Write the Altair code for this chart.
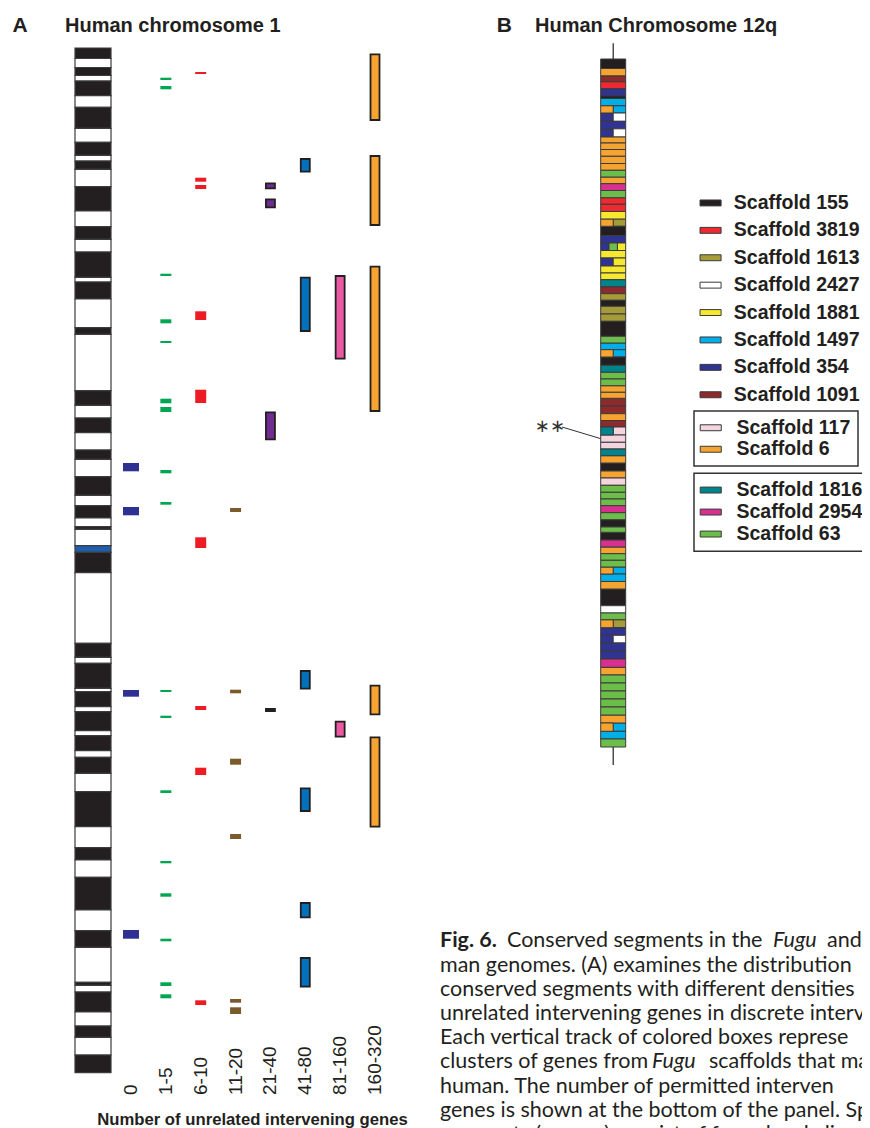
import altair as alt
import pandas as pd

# ---------------- Panel A : human chromosome 1 ----------------
# band edges, measured from the top of the ideogram (arbitrary length units)
chr1_edges = [0, 10.5, 19.5, 27.5, 33, 47.7, 59.3, 80.3, 94.3, 107.3, 113, 121.3, 138.7,
              163, 178.7, 191.3, 204, 229.3, 234, 251, 279.7, 286.3, 342.7, 357.3, 370,
              384.7, 402, 411.3, 428.7, 447.3, 457.7, 470, 478.7, 481.3, 497.7, 504.3,
              524.7, 595.3, 609.3, 615.3, 640.3, 643.7, 658.7, 663.7, 682.7, 687.7, 702.7,
              709.3, 725.3, 743.7, 778.7, 799.7, 812, 829.3, 862, 882.7, 899.3, 934.3,
              937.3, 944, 964, 978, 989.3, 1007, 1024.7]
# b = dark band, w = light band, c = centromere
chr1_stains = "bwbwbwbwbwbwbwbwbwbwbwbwbwbwbwbwbw" + "c" + "bwbwbwbwbwbwbwbwbwbwbwbwbwbwb"

tracks = ["0", "1-5", "6-10", "11-20", "21-40", "41-80", "81-160", "160-320"]
track_colors = ["#2e3192", "#00a651", "#ed1c24", "#7b5a2b", "#6f2c91", "#0072bc", "#ea5aa3", "#f6a331"]

seg_0 = [(415, 423.3), (459, 467.3), (642, 648.7), (882, 890.7)]
seg_1_5 = [(29.7, 32), (38, 41.3), (225.7, 228), (271.3, 275.3), (293, 295), (350.7, 355.3),
           (359, 364), (422, 425.3), (454, 456.7), (642, 644), (667.7, 670), (742.3, 745),
           (813, 815.3), (845.3, 848.7), (890.7, 893.3), (934.3, 938), (946.3, 950.3)]
seg_6_10 = [(24, 26), (129.7, 133.7), (137, 141), (263.3, 272), (341.7, 355), (489.3, 500),
            (658, 662), (719.7, 727), (952.3, 957)]
seg_11_20 = [(460, 464), (641.7, 645.3), (710.7, 716.7), (786, 791), (951, 954.7), (959.3, 966)]
seg_21_40 = [(135.3, 140.3), (151.3, 159.3), (364.3, 391.3), (661, 663)]
seg_41_80 = [(111, 123.7), (229.7, 283), (623, 640.7), (740.3, 763), (855, 869.3), (910, 938.7)]
seg_81_160 = [(228, 310.7), (673.7, 688.7)]
seg_160_320 = [(6.3, 72), (108, 177), (218.7, 363), (637.7, 666.3), (689.3, 778.7)]
segments = [seg_0, seg_1_5, seg_6_10, seg_11_20, seg_21_40, seg_41_80, seg_81_160, seg_160_320]

# ---------------- Panel B : human chromosome 12q ----------------
b_rows = ["155", "6", "1091", "3819", "354", "155", "1497", "6|1497", "354|2427", "354",
          "354|2427", "6", "6", "6", "6", "6", "63", "6", "2954", "63", "3819", "3819", "1881",
          "6|1613", "155", "354", "354|63|1881", "1881", "354|1881", "1881", "1881", "1816",
          "1091", "1613", "155", "1613", "1613", "155", "63", "1497", "6|1497", "155", "1816",
          "63", "63", "6", "6", "1091", "1091", "6", "1091", "1816|117", "117", "117", "1816",
          "6", "155", "6", "117", "63", "63", "63", "2954", "63", "155", "63", "155", "2954",
          "6", "63", "63", "6|1497", "1497", "6", "155", "2427", "63", "6|1613", "354",
          "354|2427", "354", "354", "2954", "6", "63", "63", "63", "63", "63", "6", "6|1497",
          "1497", "63"]
b_edges = [0, 9.5, 16.8, 22.8, 29.8, 37, 39.5, 46.8, 54, 62.3,
           69.8, 78, 84, 90.5, 97.3, 104.5, 111.3, 118, 124.7, 131.5,
           138.7, 145.3, 152.5, 160.2, 167.3, 176.5, 184, 191.5, 199, 207,
           214, 220.7, 227.7, 234.7, 241.3, 247.3, 255, 262.3, 277.3, 284,
           290.7, 298, 306.3, 313.3, 320, 326.7, 333.3, 339.3, 347, 354.7,
           361.5, 368, 376, 383.3, 390, 396.7, 404, 412, 419, 426.3,
           433.3, 440, 446.7, 453.7, 460.7, 468, 473.3, 481, 488, 494.7,
           501.3, 508, 515, 522.5, 530, 546.7, 554, 560.7, 568.7, 576.3,
           584, 592, 600, 608.3, 616, 624, 632, 640, 648, 656,
           664, 672.3, 680, 688]
b_axis = [-15.7, 706]
star_row = 52  # row pointed at by the ** annotation

scaffolds = ["155", "3819", "1613", "2427", "1881", "1497", "354", "1091",
             "117", "6", "1816", "2954", "63"]
scaffold_colors = ["#231f20", "#ed2a2f", "#a59c39", "#ffffff", "#f6e82e", "#00afe8", "#30338f",
                   "#8e2a2b", "#f4d4df", "#f5a432", "#00838b", "#d8308e", "#6dbd4b"]
legend_group = [0, 0, 0, 0, 0, 0, 0, 0, 1, 1, 2, 2, 2]

caption = [
    [("Fig. 6.", "bold"), ("Conserved segments in the", "normal"), ("Fugu", "italic"), ("and", "normal")],
    [("man genomes. (A) examines the distribution", "normal")],
    [("conserved segments with different densities", "normal")],
    [("unrelated intervening genes in discrete interv", "normal")],
    [("Each vertical track of colored boxes represe", "normal")],
    [("clusters of genes from", "normal"), ("Fugu", "italic"), ("scaffolds that map", "normal")],
    [("human. The number of permitted interven", "normal")],
    [("genes is shown at the bottom of the panel. Spa", "normal")],
    [("segments (arrows) consist of four closely li", "normal")],
]

# ---------------- layout ----------------
INK = "#231f20"
FONT = "Liberation Sans"
cap_x = {0: [432, 499, 765, 819], 5: [432, 644, 701]}

ya = alt.Scale(domain=[0, 1024.7], range=[40, 1064.7])
xt = alt.Scale(domain=[0, 7], range=[118, 372])
yb = alt.Scale(domain=[0, 688], range=[51, 739])
xb = alt.Scale(domain=[0, 1], range=[592.7, 617.7])

one = pd.DataFrame({"k": [0]})


def txt(s, x, y, size, weight="normal", style="normal", font=FONT, align="left",
        baseline="alphabetic", color=INK):
    return alt.Chart(one).mark_text(
        align=align, baseline=baseline, font=font, fontSize=size, fontWeight=weight,
        fontStyle=style, color=color
    ).encode(x=alt.value(x), y=alt.value(y), text=alt.value(s))


# ideogram
nb = min(len(chr1_edges) - 1, len(chr1_stains))
ideo_df = pd.DataFrame({"chrom": ["chr1"] * nb, "start": chr1_edges[:nb],
                        "end": chr1_edges[1:nb + 1], "stain": list(chr1_stains[:nb])})
ideo = alt.Chart(ideo_df).mark_rect(stroke="#3c3c3c", strokeWidth=1.2).encode(
    x=alt.X("chrom:N", scale=alt.Scale(range=[67, 103], paddingInner=0, paddingOuter=0), axis=None),
    y=alt.Y("start:Q", scale=ya, axis=None),
    y2="end:Q",
    color=alt.Color("stain:N", scale=alt.Scale(domain=["b", "w", "c"],
                                                range=["#231f20", "#ffffff", "#1f5ead"]), legend=None),
)

rows = []
for i, segs in enumerate(segments):
    for s, e in segs:
        rows.append({"track": tracks[i], "idx": i, "start": s, "end": e})
seg_df = pd.DataFrame(rows)

base = alt.Chart(seg_df).encode(
    x=alt.X("idx:Q", scale=xt, axis=None),
    y=alt.Y("start:Q", scale=ya, axis=None),
    y2="end:Q",
    color=alt.Color("track:N", scale=alt.Scale(domain=tracks, range=track_colors), legend=None),
)
bars0 = base.transform_filter("datum.idx == 0").mark_bar(size=16)
bars1 = base.transform_filter("datum.idx >= 1 && datum.idx <= 3").mark_bar(size=11)
bars2 = base.transform_filter("datum.idx >= 4").mark_bar(size=9, stroke=INK, strokeWidth=1.8)
tick_labels = alt.Chart(pd.DataFrame({"idx": list(range(len(tracks))), "label": tracks})).mark_text(
    angle=270, align="left", baseline="middle", font=FONT, fontSize=19, color=INK
).encode(x=alt.X("idx:Q", scale=xt, axis=None), y=alt.value(1087), text="label:N")
panelA = alt.layer(bars0, bars1, bars2, tick_labels)

# panel B rows
brec = []
for i, r in enumerate(b_rows):
    parts = r.split("|")
    n = len(parts)
    for k, p in enumerate(parts):
        brec.append({"x0": k / n, "x1": (k + 1) / n, "y0": b_edges[i], "y1": b_edges[i + 1],
                     "name": "Scaffold " + p, "group": legend_group[scaffolds.index(p)]})
b_df = pd.DataFrame(brec)

sym = "M-1.17,-0.33H1.17V0.33H-1.17Z"
common = dict(orient="none", title=None, symbolType=sym, symbolSize=324,
              symbolStrokeColor="#3a3a3a", symbolStrokeWidth=1, labelFont=FONT,
              labelFontSize=19.5, labelFontWeight="bold", labelColor=INK, labelLimit=400)
legends = [
    alt.Legend(legendX=692.8, legendY=185.2, padding=0, rowPadding=6.4, labelOffset=13.5, **common),
    alt.Legend(legendX=686, legendY=403, padding=7, rowPadding=0.5, labelOffset=16,
               strokeColor="#333333", labelExpr="datum.label + '\u2003\u2003\u2003'", **common),
    alt.Legend(legendX=686, legendY=465.3, padding=7, rowPadding=1, labelOffset=16,
               strokeColor="#333333", labelExpr="datum.label + '\u2003\u2003\u2003'", **common),
]


def rows_layer(g):
    names = ["Scaffold " + s for s, gg in zip(scaffolds, legend_group) if gg == g]
    cols = [c for c, gg in zip(scaffold_colors, legend_group) if gg == g]
    return alt.Chart(b_df).transform_filter(f"datum.group == {g}").mark_rect(
        stroke="#3a3a3a", strokeWidth=1
    ).encode(
        x=alt.X("x0:Q", scale=xb, axis=None), x2="x1:Q",
        y=alt.Y("y0:Q", scale=yb, axis=None), y2="y1:Q",
        color=alt.Color("name:N", scale=alt.Scale(domain=names, range=cols), legend=legends[g]),
    )


b_line = alt.Chart(pd.DataFrame({"x": [0.5], "y0": [b_axis[0]], "y1": [b_axis[1]]})).mark_rule(
    color=INK, strokeWidth=1.2
).encode(x=alt.X("x:Q", scale=xb, axis=None), y=alt.Y("y0:Q", scale=yb, axis=None), y2="y1:Q")

star_mid = (b_edges[star_row] + b_edges[star_row + 1]) / 2
star_line = alt.Chart(pd.DataFrame({"x": [0], "y": [star_mid]})).mark_rule(
    color="#333333", strokeWidth=1
).encode(x=alt.X("x:Q", scale=xb, axis=None), y=alt.Y("y:Q", scale=yb, axis=None),
         x2=alt.value(554), y2=alt.value(419))

panelB = alt.layer(b_line, rows_layer(0), rows_layer(1), rows_layer(2), star_line).resolve_scale(
    color="independent")

texts = [
    txt("A", 4.5, 23.7, 21, weight="bold"),
    txt("Human chromosome 1", 57, 23.7, 20, weight="bold"),
    txt("B", 488.7, 23.7, 21, weight="bold"),
    txt("Human Chromosome 12q", 527, 23.7, 20, weight="bold"),
    txt("Number of unrelated intervening genes", 244.5, 1117, 16.7, weight="bold", align="center"),
    txt("\u2217\u2217", 557, 419, 18, font="DejaVu Sans", align="right", baseline="middle",
        color="#333333"),
]
for li, line in enumerate(caption):
    xs = cap_x.get(li, [432])
    for (s, st), x in zip(line, xs):
        texts.append(txt(s, x, 939.3 + 24.2 * li, 21.5, font="Lato",
                         weight="bold" if st == "bold" else "normal",
                         style="italic" if st == "italic" else "normal"))

chart = alt.layer(ideo, panelA, panelB, *texts).resolve_scale(
    x="independent", y="independent", color="independent"
).properties(
    width=854, height=1120, autosize=alt.AutoSizeParams(type="none"), padding=0
).configure_view(stroke=None).configure_legend(strokeWidth=1.5)

chart.save("out.html", embed_options={"renderer": "svg", "actions": False})
